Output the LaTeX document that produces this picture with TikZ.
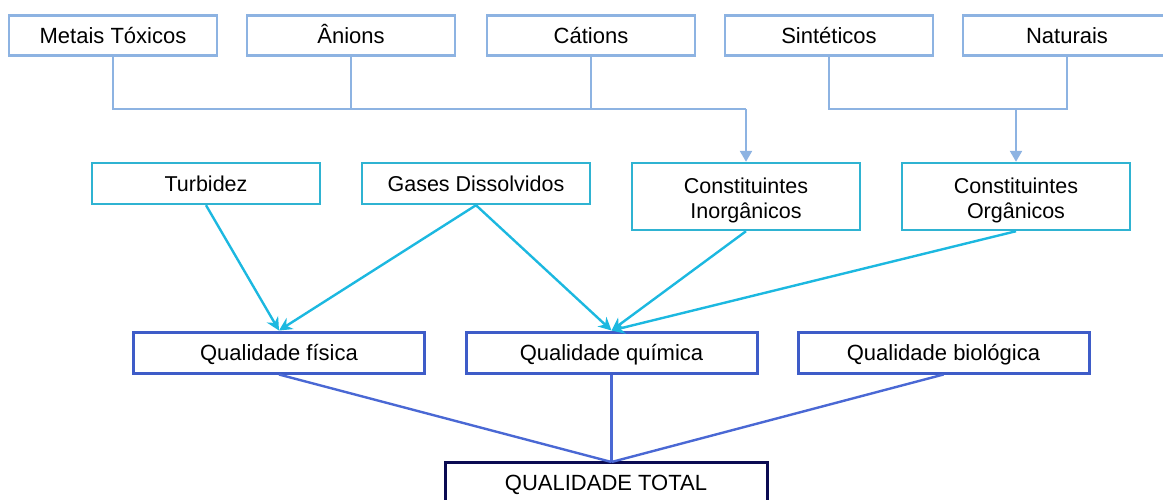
\documentclass[tikz,border=0pt]{standalone}
\usepackage{fontspec}
\setmainfont{Liberation Sans}
\usetikzlibrary{arrows.meta,shadows}
\definecolor{topc}{HTML}{8DB3E2}
\definecolor{midc}{HTML}{2FB3D2}
\definecolor{arrc}{HTML}{1CB8E0}
\definecolor{qc}{HTML}{3E5CC8}
\definecolor{qlc}{HTML}{4A68D4}
\definecolor{totc}{HTML}{0B0B52}
\tikzset{
  onel/.style={text height=18pt, text depth=2pt},
  twol/.style={text height=45pt, text depth=2pt},
  topbox/.style={draw=topc, line width=2.2pt, fill=white, minimum width=208pt, minimum height=40pt, inner sep=0pt,
    onel, drop shadow={shadow xshift=1.2pt, shadow yshift=-1.2pt, fill=gray!50, opacity=1}, font=\fontsize{22}{26}\selectfont},
  midbox/.style={draw=midc, line width=2.4pt, fill=white, minimum width=228pt, inner sep=0pt, align=center,
    font=\fontsize{21.5}{25}\selectfont},
  qbox/.style={draw=qc, line width=3pt, fill=white, minimum width=291pt, minimum height=41pt, inner sep=0pt,
    onel, font=\fontsize{22}{26}\selectfont},
  totbox/.style={draw=totc, line width=3pt, fill=white, minimum width=322pt, minimum height=41pt, inner sep=0pt,
    onel, font=\fontsize{22}{26}\selectfont},
  topline/.style={draw=topc, line width=2.4pt},
  toparrow/.style={topline, -{Triangle[width=12pt,length=11pt,fill=topc]}},
  midarrow/.style={draw=arrc, line width=2.4pt, -{Stealth[width=13pt,length=13pt]}},
  qline/.style={draw=qlc, line width=2.4pt},
}
\begin{document}
\begin{tikzpicture}[x=1pt,y=-1pt]
\useasboundingbox (0,0) rectangle (1163,499);
% top row
\node[topbox] (mt) at (113,35.5) {Metais Tóxicos};
\node[topbox] (an) at (351,35.5) {Ânions};
\node[topbox] (ca) at (591,35.5) {Cátions};
\node[topbox] (si) at (829,35.5) {Sintéticos};
\node[topbox] (na) at (1067,35.5) {Naturais};
% second row
\node[midbox, minimum height=41pt, onel] (tu) at (206,183.5) {Turbidez};
\node[midbox, minimum height=41pt, onel] (ga) at (476,183.5) {Gases Dissolvidos};
\node[midbox, minimum height=67pt, twol] (ci) at (746,196.5) {Constituintes\\Inorgânicos};
\node[midbox, minimum height=67pt, twol] (co) at (1016,196.5) {Constituintes\\Orgânicos};
% third row
\node[qbox] (qf) at (279,352.5) {Qualidade física};
\node[qbox] (qq) at (611.5,352.5) {Qualidade química};
\node[qbox] (qb) at (943.5,352.5) {Qualidade biológica};
% total
\node[totbox] (qt) at (606,482.5) {QUALIDADE TOTAL};
% junctions
\coordinate (j1) at (746,109);
\coordinate (j2) at (1016,109);
\coordinate (tq) at (611.5,462);
% top connectors
\draw[topline] (mt.south) |- (j1);
\draw[topline] (an.south) -- (an.south |- j1);
\draw[topline] (ca.south) -- (ca.south |- j1);
\draw[toparrow] (j1) -- (ci.north);
\draw[topline] (si.south) |- (na.south |- j2) -- (na.south);
\draw[toparrow] (j2) -- (co.north);
% mid arrows
\draw[midarrow] (tu.south) -- (qf.north);
\draw[midarrow] (ga.south) -- (qf.north);
\draw[midarrow] (ga.south) -- (qq.north);
\draw[midarrow] (ci.south) -- (qq.north);
\draw[midarrow] (co.south) -- (qq.north);
% lines to total
\draw[qline] (qf.south) -- (tq);
\draw[qline] (qq.south) -- (tq);
\draw[qline] (qb.south) -- (tq);
\end{tikzpicture}
\end{document}
